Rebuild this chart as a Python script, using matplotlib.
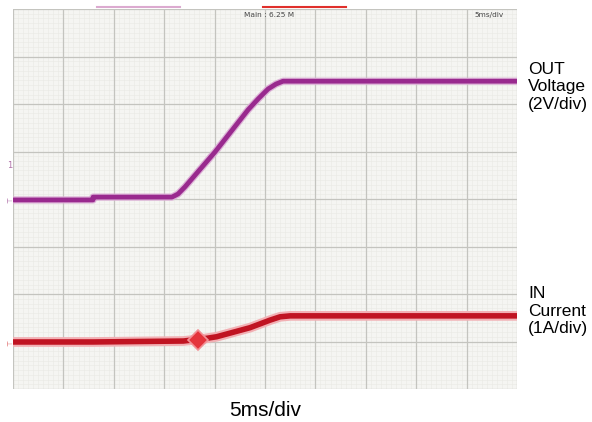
import numpy as np
import matplotlib
matplotlib.use("Agg")
import matplotlib.pyplot as plt

# Scope settings ---------------------------------------------------------------
timePerDiv = 5.0          # [ms/div]
voltPerDiv = 2.0          # [V/div]
ampPerDiv = 1.0           # [A/div]
voltGroundDiv = 3.98      # channel 1 ground marker [div]
ampGroundDiv = 0.97       # channel 2 ground marker [div]

# Traces ----------------------------------------------------------------------
# OUT voltage
tVout = [0.0, 7.94, 7.94, 15.77, 16.37, 17.06, 20.04, 23.31, 24.31, 25.30, 26.09, 26.79, 50.0]  # [ms]
vOut = [0.0, 0.0, 0.12, 0.12, 0.25, 0.55, 2.02, 3.79, 4.25, 4.67, 4.88, 5.00, 5.00]           # [V]

# IN current
tIin = [0.0, 7.94, 16.9, 19.0, 20.2, 23.5, 25.5, 26.5, 27.5, 50.0]        # [ms]
iIn = [0.02, 0.02, 0.04, 0.09, 0.13, 0.32, 0.48, 0.55, 0.57, 0.57]        # [A]

# inrush glitch on the current trace
tGlitch = [18.35]
iGlitch = [0.06]

# Plot -------------------------------------------------------------------------
fig = plt.figure(figsize=(5.92, 4.22), dpi=100)
ax = fig.add_axes([13/592, 1-389/422, (517-13)/592, (389-9)/422])
ax.set_facecolor("#f5f5f2")

# grid: 10 x 8 divisions, 10 minor ticks per division
ax.set_xlim(0, 10)
ax.set_ylim(0, 8)
for x in np.arange(0, 10.01, 0.1):
    ax.axvline(x, color="#e9e9e4", lw=0.4, zorder=0)
for y in np.arange(0, 8.01, 0.1):
    ax.axhline(y, color="#e9e9e4", lw=0.4, zorder=0)
for x in range(11):
    ax.axvline(x, color="#c4c4bf", lw=0.9, zorder=1)
for y in range(9):
    ax.axhline(y, color="#c4c4bf", lw=0.9, zorder=1)
ax.set_xticks([])
ax.set_yticks([])
for s in ax.spines.values():
    s.set_visible(False)

# convert to divisions
xv = np.array(tVout) / timePerDiv
yv = np.array(vOut) / voltPerDiv + voltGroundDiv
xi = np.array(tIin) / timePerDiv
yi = np.array(iIn) / ampPerDiv + ampGroundDiv

purple = "#992a8e"
red = "#c01422"
ax.plot(xv, yv, color="#dcb0d6", lw=5.2, solid_capstyle="butt", zorder=3)
ax.plot(xv, yv, color=purple, lw=3.4, solid_capstyle="butt", zorder=4)
ax.plot(xi, yi, color="#f2b0b4", lw=7.0, solid_capstyle="butt", zorder=3)
ax.plot(xi, yi, color=red, lw=4.0, solid_capstyle="butt", zorder=4)
ax.plot(np.array(tGlitch) / timePerDiv, np.array(iGlitch) / ampPerDiv + ampGroundDiv,
        marker="D", ms=10, color="#e4343c", mec="#f29096", mew=1.2, zorder=5)

# scope annotations
ax.text(5.08, 7.88, "Main : 6.25 M", fontsize=5.3, color="#444444",
        ha="center", va="center", family="DejaVu Sans")
ax.text(9.45, 7.88, "5ms/div", fontsize=5.3, color="#444444",
        ha="center", va="center", family="DejaVu Sans")
ax.text(-0.06, 4.7, "1", fontsize=6, color="#b070a8", ha="center", va="center")
ax.text(-0.06, voltGroundDiv, "\u22a4", fontsize=5, color="#b070a8", ha="center",
        va="center", rotation=90)
ax.text(-0.06, ampGroundDiv, "\u22a4", fontsize=5, color="#e07070", ha="center",
        va="center", rotation=90)

# memory bars above the grid
fig.add_artist(plt.Line2D([97/592, 180/592], [1-7/422, 1-7/422], color="#dcaad0", lw=1.5))
fig.add_artist(plt.Line2D([263/592, 346/592], [1-7/422, 1-7/422], color="#e0302c", lw=1.5))

# labels
fig.text(528/592, 1-87/422, "OUT\nVoltage\n(2V/div)", fontsize=12.5, ha="left",
         va="center", linespacing=1.2, family="Liberation Sans")
fig.text(528/592, 1-311/422, "IN\nCurrent\n(1A/div)", fontsize=12.5, ha="left",
         va="center", linespacing=1.2, family="Liberation Sans")
fig.text(265.5/592, 1-410/422, "5ms/div", fontsize=15, ha="center", va="center",
         family="Liberation Sans")

fig.savefig("out.png", dpi=100)
